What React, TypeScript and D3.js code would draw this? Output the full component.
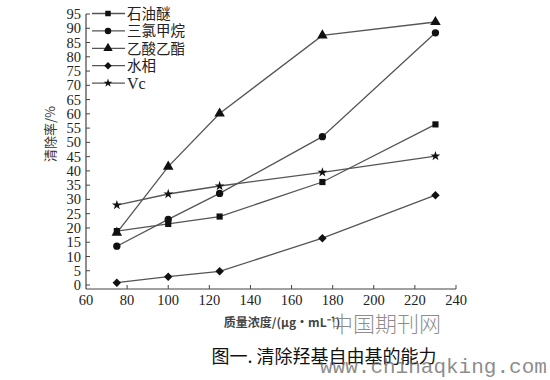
import React from "react";
import * as d3 from "d3";

const concentrations = [75, 100, 125, 175, 230];
const seriesNames = ["石油醚", "三氯甲烷", "乙酸乙酯", "水相", "Vc"];
const petroleumEther = [18.9, 21.4, 24, 36.1, 56.3];
const chloroform = [13.6, 23, 32.1, 52, 88.4];
const ethylAcetate = [18.3, 41.5, 60.1, 87.5, 92.2];
const aqueous = [0.8, 2.9, 4.8, 16.4, 31.5];
const vitaminC = [28, 31.9, 34.7, 39.5, 45.2];
const xTicks = [60, 80, 100, 120, 140, 160, 180, 200, 220, 240];
const yTicks = d3.range(0, 100, 5);

const seriesValues = [petroleumEther, chloroform, ethylAcetate, aqueous, vitaminC];
const symbolTypes = [d3.symbolSquare, d3.symbolCircle, d3.symbolTriangle, d3.symbolSquare, d3.symbolStar];
const symbolSizes = [38, 42, 48, 36, 30];
const symbolRotate = [0, 0, 0, 45, 0];

export default function App() {
  const W = 550;
  const H = 380;
  const x = d3.scaleLinear().domain([60, 240]).range([86, 456]);
  const y = d3.scaleLinear().domain([0, 95]).range([285, 14]);
  const axisY = 289;
  const line = d3
    .line<number>()
    .x((_, i) => x(concentrations[i]))
    .y((d) => y(d));

  const serif = "'Liberation Serif', 'DejaVu Serif', serif";
  const cjk = "'Noto Sans CJK SC', sans-serif";
  const legendY = (i: number) => 13.5 + i * 17.4;

  return (
    <svg
      width={W}
      height={H}
      style={{ position: "absolute", left: 0, top: 0, background: "#fff" }}
    >
      {/* axes */}
      <line x1={x(60)} x2={x(60)} y1={y(95)} y2={axisY} stroke="#444" strokeWidth={1.2} />
      <line x1={x(60)} x2={x(240)} y1={axisY} y2={axisY} stroke="#444" strokeWidth={1.2} />
      {yTicks.map((t) => (
        <g key={"yt" + t}>
          <line x1={x(60)} x2={x(60) + 4} y1={y(t)} y2={y(t)} stroke="#444" strokeWidth={1} />
          <text
            x={x(60) - 5}
            y={y(t)}
            dy="0.35em"
            textAnchor="end"
            fontFamily={serif}
            fontSize={14.5}
            fill="#222"
          >
            {t}
          </text>
        </g>
      ))}
      {xTicks.map((t) => (
        <g key={"xt" + t}>
          {t > 60 && (
            <line x1={x(t)} x2={x(t)} y1={axisY} y2={axisY - 4} stroke="#444" strokeWidth={1} />
          )}
          <text
            x={x(t)}
            y={axisY + 16}
            textAnchor="middle"
            fontFamily={serif}
            fontSize={14.5}
            fill="#222"
          >
            {t}
          </text>
        </g>
      ))}

      {/* series lines */}
      {seriesValues.map((vals, s) => (
        <path key={"l" + s} d={line(vals) || ""} fill="none" stroke="#555" strokeWidth={1.3} />
      ))}
      {/* markers */}
      {seriesValues.map((vals, s) =>
        vals.map((v, i) => (
          <path
            key={"m" + s + "-" + i}
            d={d3.symbol(symbolTypes[s], symbolSizes[s])() || ""}
            transform={`translate(${x(concentrations[i])},${y(v)}) rotate(${symbolRotate[s]})`}
            fill="#111"
          />
        ))
      )}

      {/* legend */}
      {seriesNames.map((name, s) => (
        <g key={"lg" + s}>
          <line x1={92} x2={125} y1={legendY(s)} y2={legendY(s)} stroke="#555" strokeWidth={1.3} />
          <path
            d={d3.symbol(symbolTypes[s], symbolSizes[s] * 0.8)() || ""}
            transform={`translate(108,${legendY(s)}) rotate(${symbolRotate[s]})`}
            fill="#111"
          />
          <text
            x={127}
            y={legendY(s)}
            dy="0.36em"
            fontFamily={s === 4 ? serif : cjk}
            fontSize={s === 4 ? 16 : 14.5}
            fill="#222"
          >
            {name}
          </text>
        </g>
      ))}

      {/* axis titles */}
      <text
        transform="translate(50,134) rotate(-90)"
        textAnchor="middle"
        dy="0.35em"
        fontFamily={cjk}
        fontSize={13}
        fill="#333"
      >
        清除率/%
      </text>
      <text
        x={282}
        y={323}
        textAnchor="middle"
        dy="0.35em"
        fontFamily={cjk}
        fontSize={12}
        fontWeight={700}
        fill="#444"
      >
        质量浓度/(μg·mL⁻¹)
      </text>

      {/* watermark */}
      <text
        x={386}
        y={324}
        textAnchor="middle"
        dy="0.35em"
        fontFamily={cjk}
        fontSize={22}
        fontWeight={300}
        fill="#777"
        fillOpacity={0.85}
      >
        中国期刊网
      </text>

      {/* caption */}
      <text
        x={324}
        y={357}
        textAnchor="middle"
        dy="0.35em"
        fontFamily={cjk}
        fontSize={18}
        fill="#111"
      >
        图一. 清除羟基自由基的能力
      </text>
      <text
        x={320}
        y={373}
        fontFamily="'Liberation Mono', 'DejaVu Sans Mono', monospace"
        fontSize={21}
        fill="#666"
        fillOpacity={0.75}
      >
        www.chinaqking.com
      </text>
    </svg>
  );
}
